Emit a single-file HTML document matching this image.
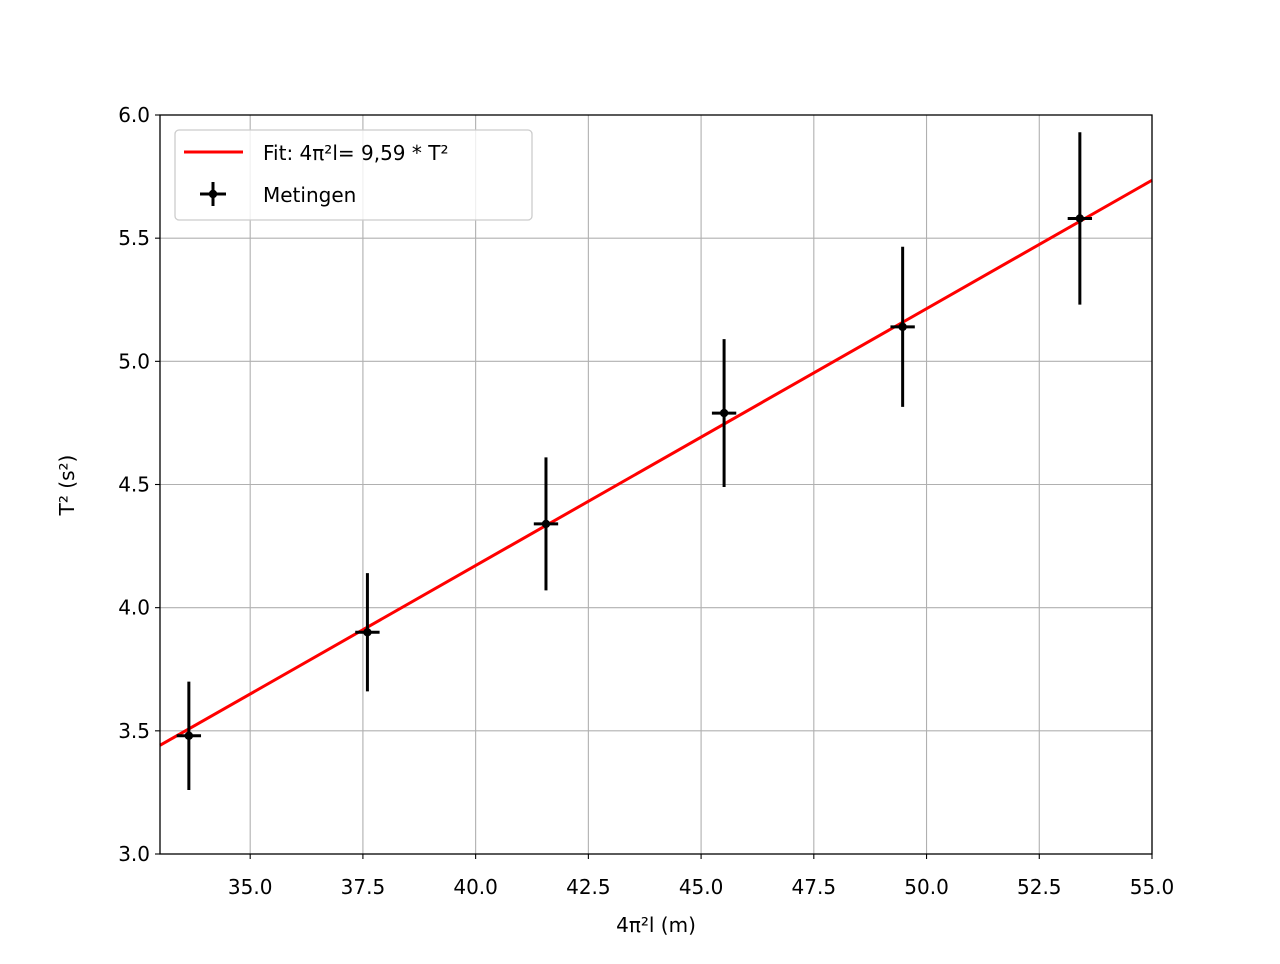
<!DOCTYPE html>
<html><head><meta charset="utf-8"><style>
body{margin:0;background:#fff;font-family:"DejaVu Sans","Liberation Sans",sans-serif;}
svg text{font-family:"DejaVu Sans","Liberation Sans",sans-serif;}
</style></head><body>
<svg id="chart" width="1280" height="960" xmlns="http://www.w3.org/2000/svg"></svg>
<script>
const xs = [33.64, 37.6, 41.56, 45.51, 49.47, 53.4];
const ys = [3.48, 3.90, 4.34, 4.79, 5.14, 5.58];
const yErr = [0.22, 0.24, 0.27, 0.30, 0.325, 0.35];
const xErr = [0.27, 0.27, 0.27, 0.27, 0.27, 0.27];
const fitSlope = 9.59;
const xTicks = [35.0, 37.5, 40.0, 42.5, 45.0, 47.5, 50.0, 52.5, 55.0];
const yTicks = [3.0, 3.5, 4.0, 4.5, 5.0, 5.5, 6.0];

const L=160,R=1152,T=115,B=854,xMin=33,xMax=55,yMin=3,yMax=6;
const sx=v=>L+(v-xMin)/(xMax-xMin)*(R-L);
const sy=v=>B-(v-yMin)/(yMax-yMin)*(B-T);
const svg=document.getElementById('chart');
const NS='http://www.w3.org/2000/svg';
function mk(tag,attrs,parent){const e=document.createElementNS(NS,tag);for(const k in attrs)e.setAttribute(k,attrs[k]);(parent||svg).appendChild(e);return e;}

const grid=mk('g',{});


xTicks.forEach(t=>{const X=sx(t);
 mk('line',{x1:X,x2:X,y1:T,y2:B,stroke:'#b0b0b0','stroke-width':1.1},grid);
 mk('line',{x1:X,x2:X,y1:B,y2:B+5,stroke:'#000','stroke-width':1.1});
 const tx=mk('text',{x:X,y:B+40,'text-anchor':'middle','font-size':'20'});tx.textContent=t.toFixed(1);
 
 
});
yTicks.forEach(t=>{const Y=sy(t);
 mk('line',{x1:L,x2:R,y1:Y,y2:Y,stroke:'#b0b0b0','stroke-width':1.1},grid);
 mk('line',{x1:L-5,x2:L,y1:Y,y2:Y,stroke:'#000','stroke-width':1.1});
 const tx=mk('text',{x:L-10,y:Y+7,'text-anchor':'end','font-size':'20'});tx.textContent=t.toFixed(1);
 
 
});

const fit=mk('line',{x1:sx(xMin),y1:sy(xMin/fitSlope),x2:sx(xMax),y2:sy(xMax/fitSlope),stroke:'#ff0000','stroke-width':3});



xs.forEach((x,i)=>{
 const g=mk('g',{});
 
 
 mk('line',{x1:sx(x),x2:sx(x),y1:sy(ys[i]-yErr[i]),y2:sy(ys[i]+yErr[i]),stroke:'#000','stroke-width':3},g);
 mk('line',{x1:sx(x-xErr[i]),x2:sx(x+xErr[i]),y1:sy(ys[i]),y2:sy(ys[i]),stroke:'#000','stroke-width':3},g);
 mk('circle',{cx:sx(x),cy:sy(ys[i]),r:4.2,fill:'#000'},g);
});

const frame=mk('rect',{x:L,y:T,width:R-L,height:B-T,fill:'none',stroke:'#000','stroke-width':1.3});



const xl=mk('text',{x:(L+R)/2,y:932,'text-anchor':'middle','font-size':'20'});xl.textContent='4π²l (m)';


const yl=mk('text',{x:0,y:0,'text-anchor':'middle','font-size':'20',transform:'translate(74,485) rotate(-90)'});yl.textContent='T² (s²)';



const lg=mk('g',{});


mk('rect',{x:175,y:130,width:357,height:90,rx:4,fill:'#fff','fill-opacity':0.8,stroke:'#cccccc','stroke-width':1.3},lg);
mk('line',{x1:184,x2:243,y1:152,y2:152,stroke:'#ff0000','stroke-width':3},lg);
const t1=mk('text',{x:263,y:160,'font-size':'20'},lg);t1.textContent='Fit: 4π²l= 9,59 * T²';


mk('line',{x1:200,x2:226,y1:194,y2:194,stroke:'#000','stroke-width':3},lg);
mk('line',{x1:213,x2:213,y1:182,y2:206,stroke:'#000','stroke-width':3},lg);
mk('circle',{cx:213,cy:194,r:4.2,fill:'#000'},lg);
const t2=mk('text',{x:263,y:202,'font-size':'20'},lg);t2.textContent='Metingen';


</script>
</body></html>
